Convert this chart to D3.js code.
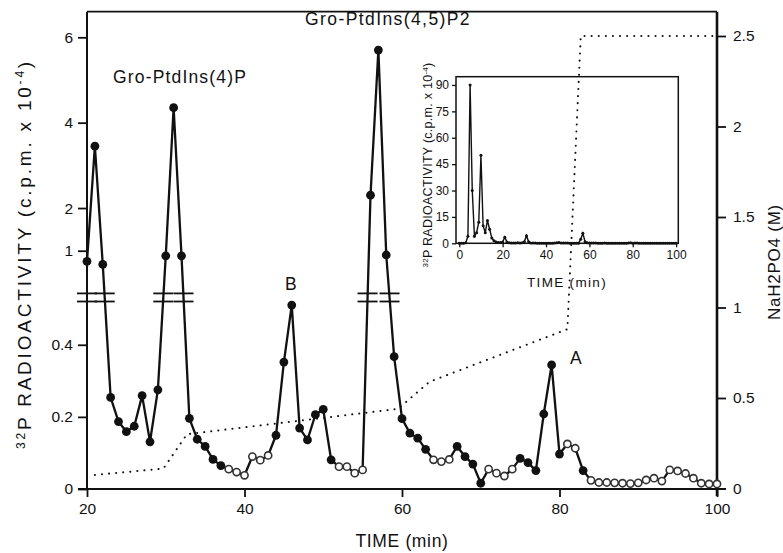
<!DOCTYPE html>
<html>
<head>
<meta charset="utf-8">
<script src="https://cdn.jsdelivr.net/npm/d3@7"></script>
<style>
    body { margin: 0; background: #fff; }
    svg text { font-family: "Liberation Sans", Arial, Helvetica, sans-serif; fill: #111; }
</style>
</head>
<body>
<div id="chart"></div>
<script>
const width = 783;
const height = 553;

// main trace: fractions 20-100 min, 32P c.p.m. x 10^-4
const time = [20, 21, 22, 23, 24, 25, 26, 27, 28, 29, 30, 31, 32, 33, 34, 35, 36, 37, 38, 39,
    40, 41, 42, 43, 44, 45, 46, 47, 48, 49, 50, 51, 52, 53, 54, 55, 56, 57, 58, 59,
    60, 61, 62, 63, 64, 65, 66, 67, 68, 69, 70, 71, 72, 73, 74, 75, 76, 77, 78, 79,
    80, 81, 82, 83, 84, 85, 86, 87, 88, 89, 90, 91, 92, 93, 94, 95, 96, 97, 98, 99, 100];
const activity = [0.75, 3.45, 0.68, 0.254, 0.187, 0.159, 0.174, 0.259, 0.131, 0.275, 0.88, 4.35, 0.88, 0.196, 0.138, 0.118, 0.082, 0.065, 0.055, 0.047,
    0.038, 0.09, 0.08, 0.093, 0.149, 0.352, 0.51, 0.169, 0.136, 0.206, 0.221, 0.081, 0.062, 0.062, 0.044, 0.053, 2.3, 5.7, 0.9, 0.367,
    0.195, 0.155, 0.141, 0.11, 0.081, 0.076, 0.082, 0.118, 0.09, 0.069, 0.016, 0.055, 0.044, 0.036, 0.055, 0.085, 0.073, 0.051, 0.208, 0.344,
    0.097, 0.125, 0.113, 0.051, 0.024, 0.018, 0.018, 0.017, 0.016, 0.015, 0.017, 0.025, 0.03, 0.022, 0.053, 0.05, 0.043, 0.03, 0.016, 0.014, 0.014];
// fractions drawn with open symbols
const openTimes = [38, 39, 40, 41, 42, 43, 52, 53, 54, 55, 64, 65, 66, 71, 72, 73, 74, 81, 82,
    84, 85, 86, 87, 88, 89, 90, 91, 92, 93, 94, 95, 96, 97, 98, 99, 100];

// NaH2PO4 gradient (M)
const gradTime = [21, 29.7, 32.7, 59.5, 63.5, 81, 82.7, 100];
const gradConc = [0.075, 0.11, 0.3, 0.44, 0.59, 0.88, 2.5, 2.5];

// inset: early fractions 0-19 min (rest of the inset is the main trace)
const insetEarlyTime = [0, 1, 2, 3, 4, 5, 6, 7, 8, 9, 10, 11, 12, 13, 14, 15, 16, 17, 18, 19];
const insetEarlyValue = [0, 0, 0, 0.3, 4, 90, 30, 4, 6, 12, 50, 10, 6, 13, 8, 3, 1.5, 0.8, 0.5, 0.4];

const leftTicksLow = [0, 0.2, 0.4];
const leftTicksHigh = [1, 2, 4, 6];
const rightTicks = [0, 0.5, 1, 1.5, 2, 2.5];
const bottomTicks = [20, 40, 60, 80, 100];
const insetYTicks = [0, 15, 30, 45, 60, 75, 90];
const insetXTicks = [0, 20, 40, 60, 80, 100];

const svg = d3.select('#chart')
    .append('svg')
    .attr('width', width)
    .attr('height', height);

const x = d3.scaleLinear().domain([20, 100]).range([87, 717]);
const breakValue = 0.52;
const yLow = d3.scaleLinear().domain([0, breakValue]).range([489, 301.5]);
const yHigh = d3.scaleLinear().domain([0, 6.6]).range([293.4, 11.7]);
const yPos = (v) => v <= breakValue ? yLow(v) : yHigh(v);
const yConc = d3.scaleLinear().domain([0, 2.5]).range([488.5, 36]);

const fmt = (d) => d === 0 ? '0' : String(d);

// spread a label's glyphs so it covers the given length (the original type is wide)
const fitText = (sel, target) => {
    const n = sel.text().length;
    const w = sel.node().getComputedTextLength();
    sel.attr('letter-spacing', Math.max(0, (target - w) / n));
    return sel;
};

// FRAME
svg.append('line')
    .attr('x1', 87).attr('x2', 717).attr('y1', 11.7).attr('y2', 11.7)
    .attr('stroke', '#111').attr('stroke-width', 1.8);
svg.append('line')
    .attr('x1', 87).attr('x2', 87).attr('y1', 11.7).attr('y2', 489)
    .attr('stroke', '#111').attr('stroke-width', 2);
svg.append('line')
    .attr('x1', 717).attr('x2', 717).attr('y1', 11.7).attr('y2', 496)
    .attr('stroke', '#111').attr('stroke-width', 2.6);

// AXES
const styleAxis = (g) => {
    g.select('.domain').remove();
    g.selectAll('.tick line').attr('stroke', '#111').attr('stroke-width', 1.8);
    g.selectAll('.tick text').attr('font-size', 15.5).attr('fill', '#111');
};

svg.append('g')
    .attr('transform', 'translate(87,0)')
    .call(d3.axisLeft(yLow).tickValues(leftTicksLow).tickSize(9).tickPadding(5).tickFormat(fmt))
    .call(styleAxis);
svg.append('g')
    .attr('transform', 'translate(87,0)')
    .call(d3.axisLeft(yHigh).tickValues(leftTicksHigh).tickSize(9).tickPadding(5).tickFormat(fmt))
    .call(styleAxis);
svg.append('g')
    .attr('transform', 'translate(717,0)')
    .call(d3.axisRight(yConc).tickValues(rightTicks).tickSize(9).tickPadding(7).tickFormat(fmt))
    .call(styleAxis);
const xAxis = svg.append('g')
    .attr('transform', 'translate(0,489)')
    .call(d3.axisBottom(x).tickValues(bottomTicks).tickSize(8).tickPadding(6))
    .call(styleAxis);
xAxis.append('line')
    .attr('x1', 78).attr('x2', 726)
    .attr('stroke', '#111').attr('stroke-width', 2.2);

// AXIS TITLES
const leftTitle = svg.append('text')
    .attr('transform', 'translate(31,254) rotate(-90)')
    .attr('text-anchor', 'middle')
    .attr('font-size', 19);
leftTitle.append('tspan').attr('font-size', 12).attr('dy', -6).text('32');
leftTitle.append('tspan').attr('dy', 6).text('P RADIOACTIVITY (c.p.m. x 10');
leftTitle.append('tspan').attr('font-size', 12).attr('dy', -7).text('-4');
leftTitle.append('tspan').attr('dy', 7).text(')');
fitText(leftTitle, 390);

fitText(svg.append('text')
    .attr('transform', 'translate(780,262) rotate(-90)')
    .attr('text-anchor', 'middle')
    .attr('font-size', 17)
    .text('NaH2PO4 (M)'), 116);

fitText(svg.append('text')
    .attr('x', x(60)).attr('y', 547)
    .attr('text-anchor', 'middle')
    .attr('font-size', 17.5)
    .text('TIME (min)'), 93);

// GRADIENT (dotted)
const gradData = gradTime.map((t, i) => ({ t, c: gradConc[i] }));
svg.append('path')
    .datum(gradData)
    .attr('d', d3.line().x(d => x(d.t)).y(d => yConc(d.c)))
    .attr('fill', 'none')
    .attr('stroke', '#111')
    .attr('stroke-width', 2)
    .attr('stroke-linecap', 'round')
    .attr('stroke-dasharray', '0.1 7');

// MAIN TRACE
const traceData = time.map((t, i) => ({ t, v: activity[i], open: openTimes.includes(t) }));

svg.append('path')
    .datum(traceData)
    .attr('d', d3.line().x(d => x(d.t)).y(d => yPos(d.v)))
    .attr('fill', 'none')
    .attr('stroke', '#111')
    .attr('stroke-width', 2.3)
    .attr('stroke-linejoin', 'round');

// BREAK MARKS (axis + where the trace crosses the break)
const breakMid = (yLow(breakValue) + yHigh(0)) / 2;
const crossings = [x(20)];
traceData.slice(1).forEach((d, i) => {
    const p = traceData[i];
    const upA = p.v > breakValue;
    const upB = d.v > breakValue;
    if (upA !== upB) {
        const ya = yPos(p.v);
        const yb = yPos(d.v);
        const f = (breakMid - ya) / (yb - ya);
        crossings.push(x(p.t) + f * (x(d.t) - x(p.t)));
    }
});
const breaks = svg.append('g');
crossings.forEach((cx) => {
    [yHigh(0), yLow(breakValue)].forEach((by) => {
        breaks.append('line')
            .attr('x1', cx - 10).attr('x2', cx + 10)
            .attr('y1', by).attr('y2', by)
            .attr('stroke', '#111')
            .attr('stroke-width', 1.8);
    });
});

// MARKERS
svg.append('g')
    .selectAll('circle')
    .data(traceData)
    .join('circle')
    .attr('cx', d => x(d.t))
    .attr('cy', d => yPos(d.v))
    .attr('r', d => d.open ? 3.6 : 4.4)
    .attr('fill', d => d.open ? '#fff' : '#111')
    .attr('stroke', d => d.open ? '#333' : 'none')
    .attr('stroke-width', 1.6);

// ANNOTATIONS
const note = (tx, ty, label, size, target) => {
    const t = svg.append('text')
        .attr('x', tx).attr('y', ty)
        .attr('font-size', size)
        .text(label);
    if (target) fitText(t, target);
    return t;
};
note(113, 83, 'Gro-PtdIns(4)P', 17.5, 134);
note(305, 25, 'Gro-PtdIns(4,5)P2', 17.5, 166);
note(285, 290, 'B', 17.5);
note(570, 364, 'A', 17.5);

// INSET
const ix = d3.scaleLinear().domain([-1.5, 101]).range([456, 678.3]);
const iy = d3.scaleLinear().domain([0, 94.7]).range([243.3, 76.7]);
const inset = svg.append('g');

inset.append('rect')
    .attr('x', 456).attr('y', 76.7)
    .attr('width', 222.3).attr('height', 166.6)
    .attr('fill', 'none')
    .attr('stroke', '#111')
    .attr('stroke-width', 1.5);

const styleInsetAxis = (g) => {
    g.select('.domain').remove();
    g.selectAll('.tick line').attr('stroke', '#111').attr('stroke-width', 1.3);
    g.selectAll('.tick text').attr('font-size', 12).attr('fill', '#111');
};
inset.append('g')
    .attr('transform', 'translate(456,0)')
    .call(d3.axisLeft(iy).tickValues(insetYTicks).tickSize(4).tickPadding(3))
    .call(styleInsetAxis);
inset.append('g')
    .attr('transform', 'translate(0,243.3)')
    .call(d3.axisBottom(ix).tickValues(insetXTicks).tickSize(4).tickPadding(3))
    .call(styleInsetAxis);

const insetData = insetEarlyTime.map((t, i) => ({ t, v: insetEarlyValue[i] }))
    .concat(traceData.map(d => ({ t: d.t, v: d.v })));

inset.append('path')
    .datum(insetData)
    .attr('d', d3.line().x(d => ix(d.t)).y(d => iy(d.v)))
    .attr('fill', 'none')
    .attr('stroke', '#111')
    .attr('stroke-width', 1.4);
inset.append('g')
    .selectAll('circle')
    .data(insetData)
    .join('circle')
    .attr('cx', d => ix(d.t))
    .attr('cy', d => iy(d.v))
    .attr('r', 1.5)
    .attr('fill', '#111');

const insetTitle = inset.append('text')
    .attr('transform', 'translate(432,165) rotate(-90)')
    .attr('text-anchor', 'middle')
    .attr('font-size', 12.5);
insetTitle.append('tspan').attr('font-size', 8).attr('dy', -4).text('32');
insetTitle.append('tspan').attr('dy', 4).text('P RADIOACTIVITY (c.p.m. x 10');
insetTitle.append('tspan').attr('font-size', 8).attr('dy', -4).text('-4');
insetTitle.append('tspan').attr('dy', 4).text(')');
fitText(insetTitle, 205);

fitText(inset.append('text')
    .attr('x', 567).attr('y', 287)
    .attr('text-anchor', 'middle')
    .attr('font-size', 13.5)
    .text('TIME (min)'), 80);
</script>
</body>
</html>
